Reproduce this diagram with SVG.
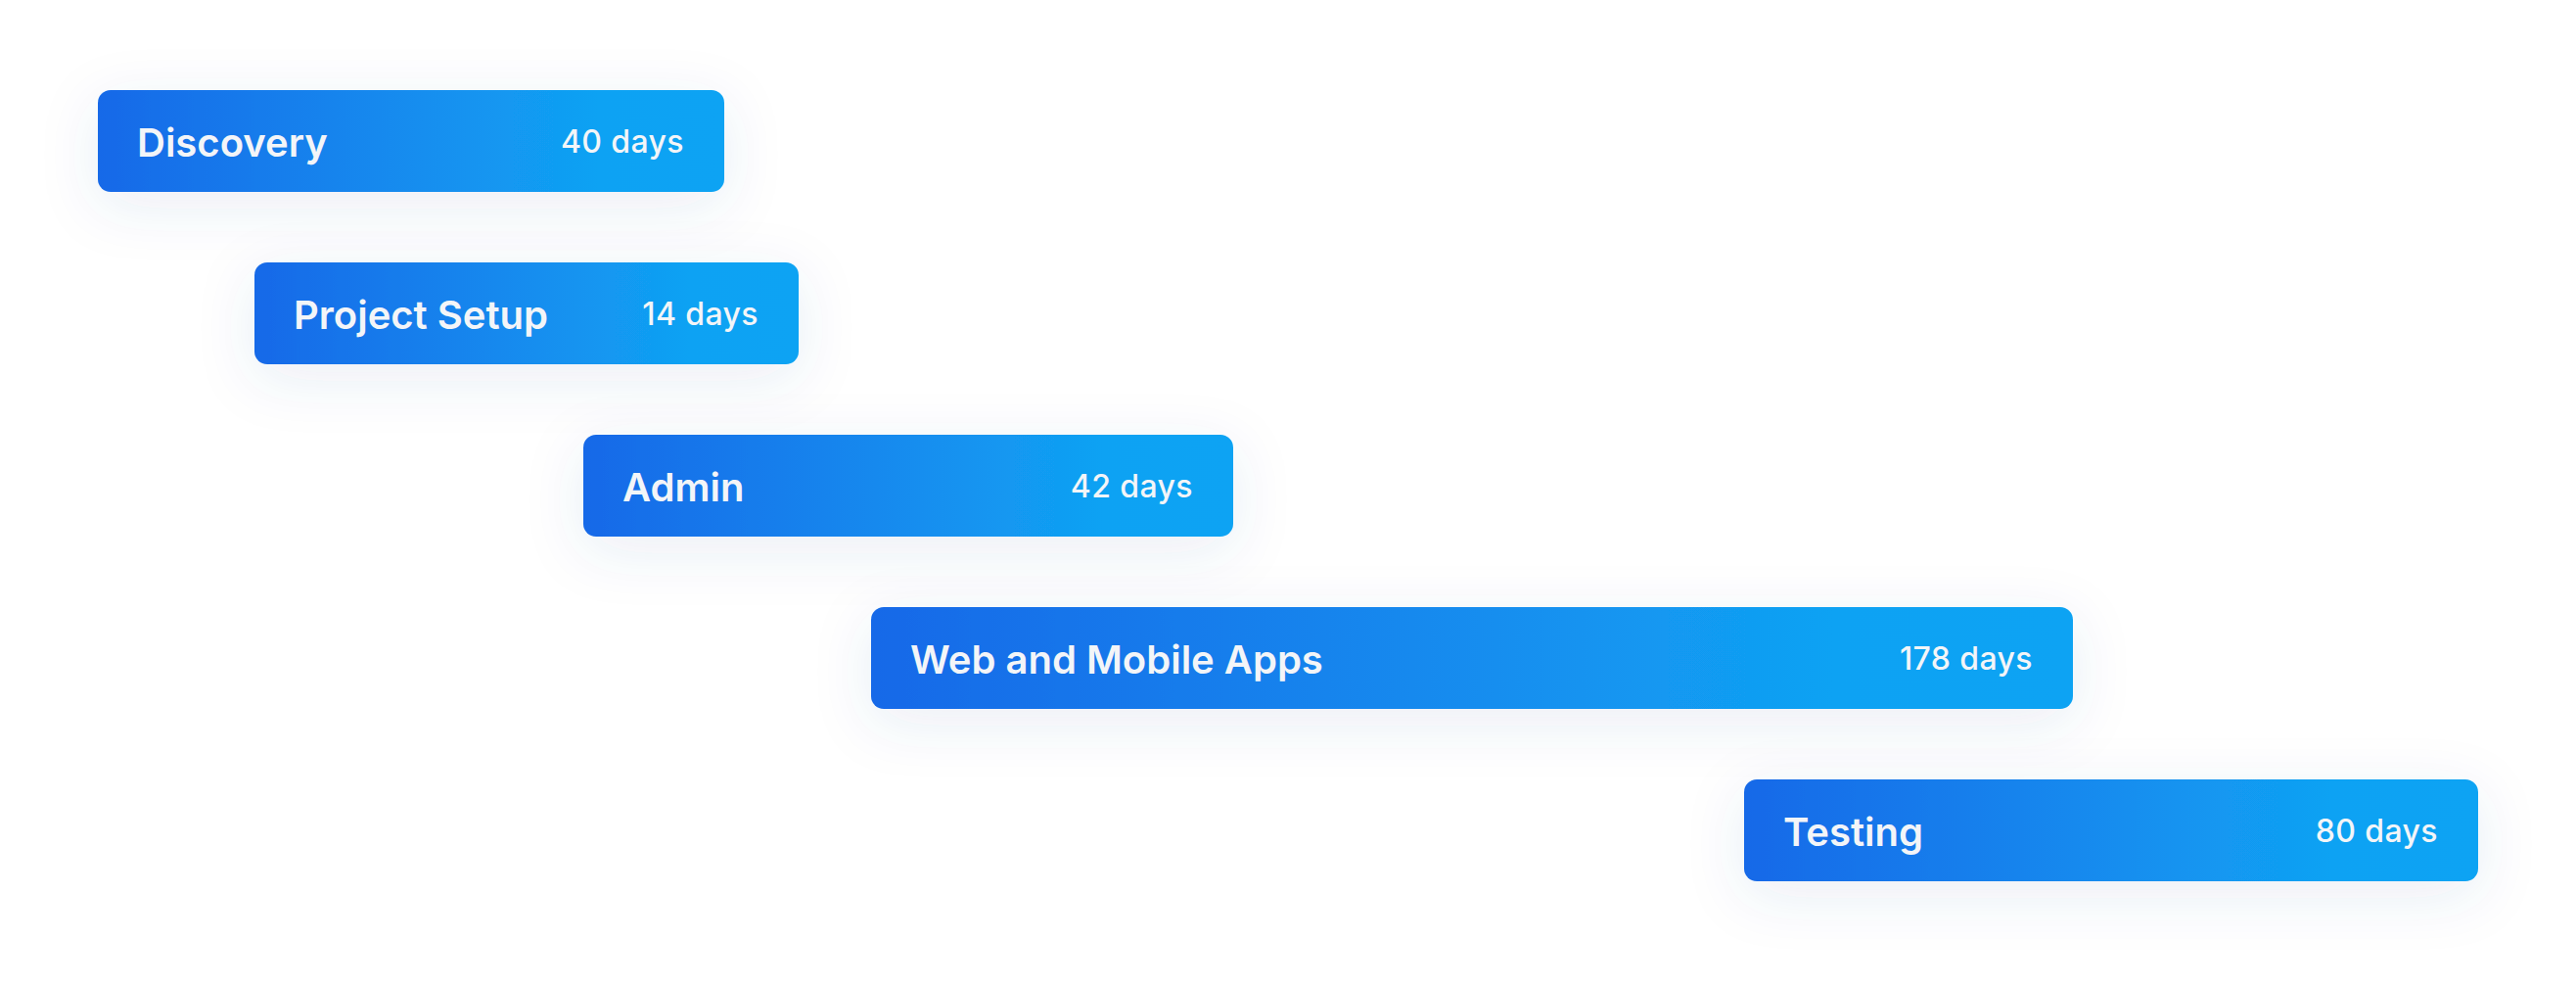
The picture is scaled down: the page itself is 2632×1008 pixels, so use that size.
<svg xmlns="http://www.w3.org/2000/svg" width="2632" height="1008" viewBox="0 0 2632 1008">
  <defs>
    <linearGradient id="barGrad" x1="0" y1="0" x2="1" y2="0">
      <stop offset="0" stop-color="#1769E8"/>
      <stop offset="0.45" stop-color="#1589EE"/>
      <stop offset="0.8" stop-color="#10A2F3"/>
      <stop offset="1" stop-color="#10A3F3"/>
    </linearGradient>
    <filter id="shadow" x="-25%" y="-100%" width="150%" height="300%">
      <feGaussianBlur in="SourceAlpha" stdDeviation="30"/>
      <feOffset dx="0" dy="14" result="b"/>
      <feFlood flood-color="#3A5A9A" flood-opacity="0.1"/>
      <feComposite in2="b" operator="in" result="s"/>
      <feMerge>
        <feMergeNode in="s"/>
        <feMergeNode in="SourceGraphic"/>
      </feMerge>
    </filter>
  </defs>
  <style>
    .bar { fill: url(#barGrad); filter: url(#shadow); }
    .title { font-family: Inter, "Noto Sans", "Liberation Sans", sans-serif; font-weight: 600; font-size: 40px; fill: #F3F5F8; }
    .days { font-family: Inter, "Noto Sans", "Liberation Sans", sans-serif; font-weight: 500; font-size: 32px; letter-spacing: 0.4px; fill: #F3F5F8; text-anchor: end; }
  </style>
  <rect width="2632" height="1008" fill="#FFFFFF"/>
  <g id="connectors"></g>
  <g id="discovery">
    <rect class="bar" x="100" y="92" width="640" height="104" rx="13"/>
    <text class="title" x="140" y="160">Discovery</text>
    <text class="days" x="699" y="156">40 days</text>
  </g>
  <g id="project-setup">
    <rect class="bar" x="260" y="268" width="556" height="104" rx="13"/>
    <text class="title" x="300" y="336">Project Setup</text>
    <text class="days" x="775" y="332">14 days</text>
  </g>
  <g id="admin">
    <rect class="bar" x="596" y="444" width="664" height="104" rx="13"/>
    <text class="title" x="636" y="512">Admin</text>
    <text class="days" x="1219" y="508">42 days</text>
  </g>
  <g id="web-mobile">
    <rect class="bar" x="890" y="620" width="1228" height="104" rx="13"/>
    <text class="title" x="930" y="688">Web and Mobile Apps</text>
    <text class="days" x="2077" y="684">178 days</text>
  </g>
  <g id="testing">
    <rect class="bar" x="1782" y="796" width="750" height="104" rx="13"/>
    <text class="title" x="1822" y="864">Testing</text>
    <text class="days" x="2491" y="860">80 days</text>
  </g>
</svg>
